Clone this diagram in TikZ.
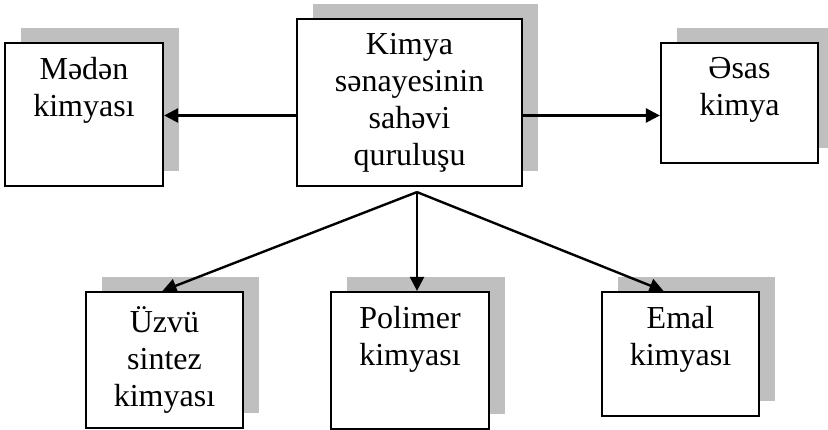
\documentclass[tikz,border=0pt]{standalone}
\usepackage{fontspec}
\setmainfont{Liberation Serif}
\usepackage{tikz}
\usetikzlibrary{arrows.meta, shadows, positioning}

\begin{document}
\begin{tikzpicture}[x=1pt, y=1pt,
    box/.style={draw, line width=2.2pt, fill=white, inner sep=0pt,
        drop shadow={shadow xshift=16pt, shadow yshift=15pt, fill=black!25, opacity=1}},
    txt/.style={align=center, anchor=north, inner sep=0pt, execute at begin node=\strut,
        font=\fontsize{32}{37}\selectfont},
    arr/.style={-{Triangle[length=14pt, width=14pt]}, line width=2.4pt}]
    \useasboundingbox (0,0) rectangle (828,430);

    % qutular
    \node[box, minimum width=225pt, minimum height=167pt] (kimya) at (409.5,327.5) {};
    \node[box, minimum width=158pt, minimum height=143pt] (meden) at (84,315.5) {};
    \node[box, minimum width=157pt, minimum height=120pt] (esas) at (739.5,327) {};
    \node[box, minimum width=157pt, minimum height=136pt] (uzvu) at (164.5,70) {};
    \node[box, minimum width=158pt, minimum height=137pt] (polimer) at (410,69.5) {};
    \node[box, minimum width=157pt, minimum height=124pt] (emal) at (680.5,76) {};

    % yazılar
    \node[txt] (kimyat) at ([yshift=-15pt]kimya.north) {Kimya\\sənayesinin\\sahəvi\\quruluşu};
    \node[txt] (medent) at ([yshift=-15pt]meden.north) {Mədən\\kimyası};
    \node[txt] (esast) at ([yshift=-15pt]esas.north) {Əsas\\kimya};
    \node[txt] (uzvut) at ([yshift=-15pt]uzvu.north) {Üzvü\\sintez\\kimyası};
    \node[txt] (polimert) at ([yshift=-15pt]polimer.north) {Polimer\\kimyası};
    \node[txt] (emalt) at ([yshift=-15pt]emal.north) {Emal\\kimyası};

    % oxlar
    \draw[arr] ([yshift=-13pt]kimya.west) -- ([yshift=-13pt]kimya.west -| meden.east);
    \draw[arr] ([yshift=-13pt]kimya.east) -- ([yshift=-13pt]kimya.east -| esas.west);
    \coordinate (fork) at ([xshift=7.5pt, yshift=-5pt]kimya.south);
    \draw[arr] (fork) -- ([xshift=-2pt]uzvu.north);
    \draw[arr] (fork) -- (fork |- polimer.north);
    \draw[arr] (fork) -- ([xshift=-17pt]emal.north);
\end{tikzpicture}
\end{document}
